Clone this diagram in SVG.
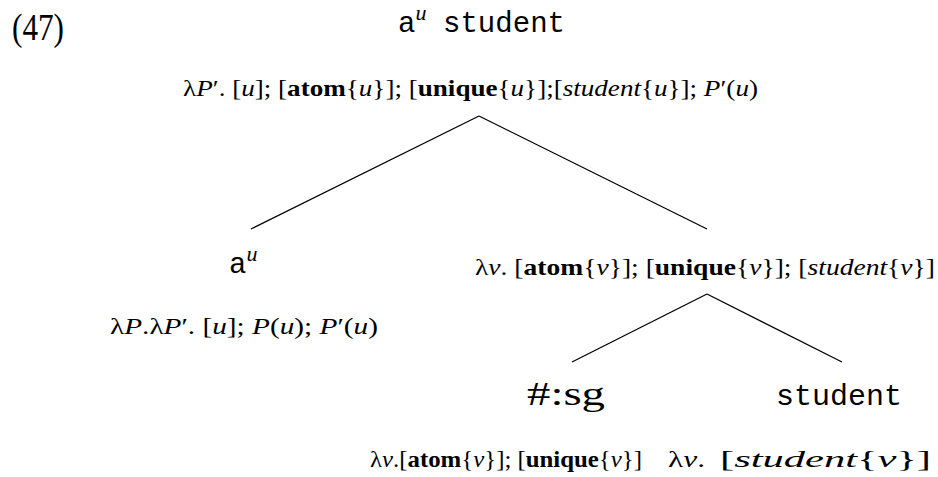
<svg xmlns="http://www.w3.org/2000/svg" width="938" height="477" viewBox="0 0 938 477">
<style>
.s{font-family:"Liberation Serif","DejaVu Serif",serif;fill:#000}
.m{font-family:"Liberation Mono","DejaVu Sans Mono",monospace;fill:#000}
.i{font-style:italic}
.b{font-weight:bold}
.f{font-size:23px}
.e{stroke:#000;stroke-width:1.3;fill:none}
</style>
<rect width="938" height="477" fill="#fff"/>
<text class="s" x="12" y="40" font-size="37" textLength="52" lengthAdjust="spacingAndGlyphs">(47)</text>
<g id="root">
<text class="m" x="398" y="32" font-size="29">a<tspan class="s i" font-size="22" dy="-12">u</tspan></text>
<text class="m" x="443" y="32" font-size="29" textLength="122" lengthAdjust="spacingAndGlyphs">student</text>
<text class="s f" x="183" y="96" textLength="575" lengthAdjust="spacingAndGlyphs">λ<tspan class="i">P</tspan>′. [<tspan class="i">u</tspan>]; [<tspan class="b">atom</tspan>{<tspan class="i">u</tspan>}]; [<tspan class="b">unique</tspan>{<tspan class="i">u</tspan>}];[<tspan class="i">student</tspan>{<tspan class="i">u</tspan>}]; <tspan class="i">P</tspan>′(<tspan class="i">u</tspan>)</text>
</g>
<g id="det">
<text class="m" x="229" y="273" font-size="29">a<tspan class="s i" font-size="22" dy="-12">u</tspan></text>
<text class="s f" x="110" y="334" textLength="268" lengthAdjust="spacingAndGlyphs">λ<tspan class="i">P</tspan>.λ<tspan class="i">P</tspan>′. [<tspan class="i">u</tspan>]; <tspan class="i">P</tspan>(<tspan class="i">u</tspan>); <tspan class="i">P</tspan>′(<tspan class="i">u</tspan>)</text>
</g>
<g id="np">
<text class="s f" x="475" y="275" textLength="460" lengthAdjust="spacingAndGlyphs">λ<tspan class="i">v</tspan>. [<tspan class="b">atom</tspan>{<tspan class="i">v</tspan>}]; [<tspan class="b">unique</tspan>{<tspan class="i">v</tspan>}]; [<tspan class="i">student</tspan>{<tspan class="i">v</tspan>}]</text>
</g>
<g id="num">
<text class="s" x="527" y="405" font-size="34" textLength="78" lengthAdjust="spacingAndGlyphs">#:sg</text>
<text class="s f" x="370" y="467" textLength="272" lengthAdjust="spacingAndGlyphs">λ<tspan class="i">v</tspan>.[<tspan class="b">atom</tspan>{<tspan class="i">v</tspan>}]; [<tspan class="b">unique</tspan>{<tspan class="i">v</tspan>}]</text>
</g>
<g id="noun">
<text class="m" x="776" y="405" font-size="29" textLength="126" lengthAdjust="spacingAndGlyphs">student</text>
<text class="s" font-size="24" y="467"><tspan x="668" textLength="37" lengthAdjust="spacingAndGlyphs">λ<tspan class="i">v</tspan>.</tspan><tspan x="720" textLength="211" lengthAdjust="spacingAndGlyphs">[<tspan class="i">student</tspan>{<tspan class="i">v</tspan>}]</tspan></text>
</g>
<g id="edges">
<line class="e" x1="479" y1="116" x2="251" y2="229"/>
<line class="e" x1="479" y1="116" x2="707" y2="229"/>
<line class="e" x1="707" y1="294" x2="572" y2="362"/>
<line class="e" x1="707" y1="294" x2="842" y2="362"/>
</g>
</svg>
